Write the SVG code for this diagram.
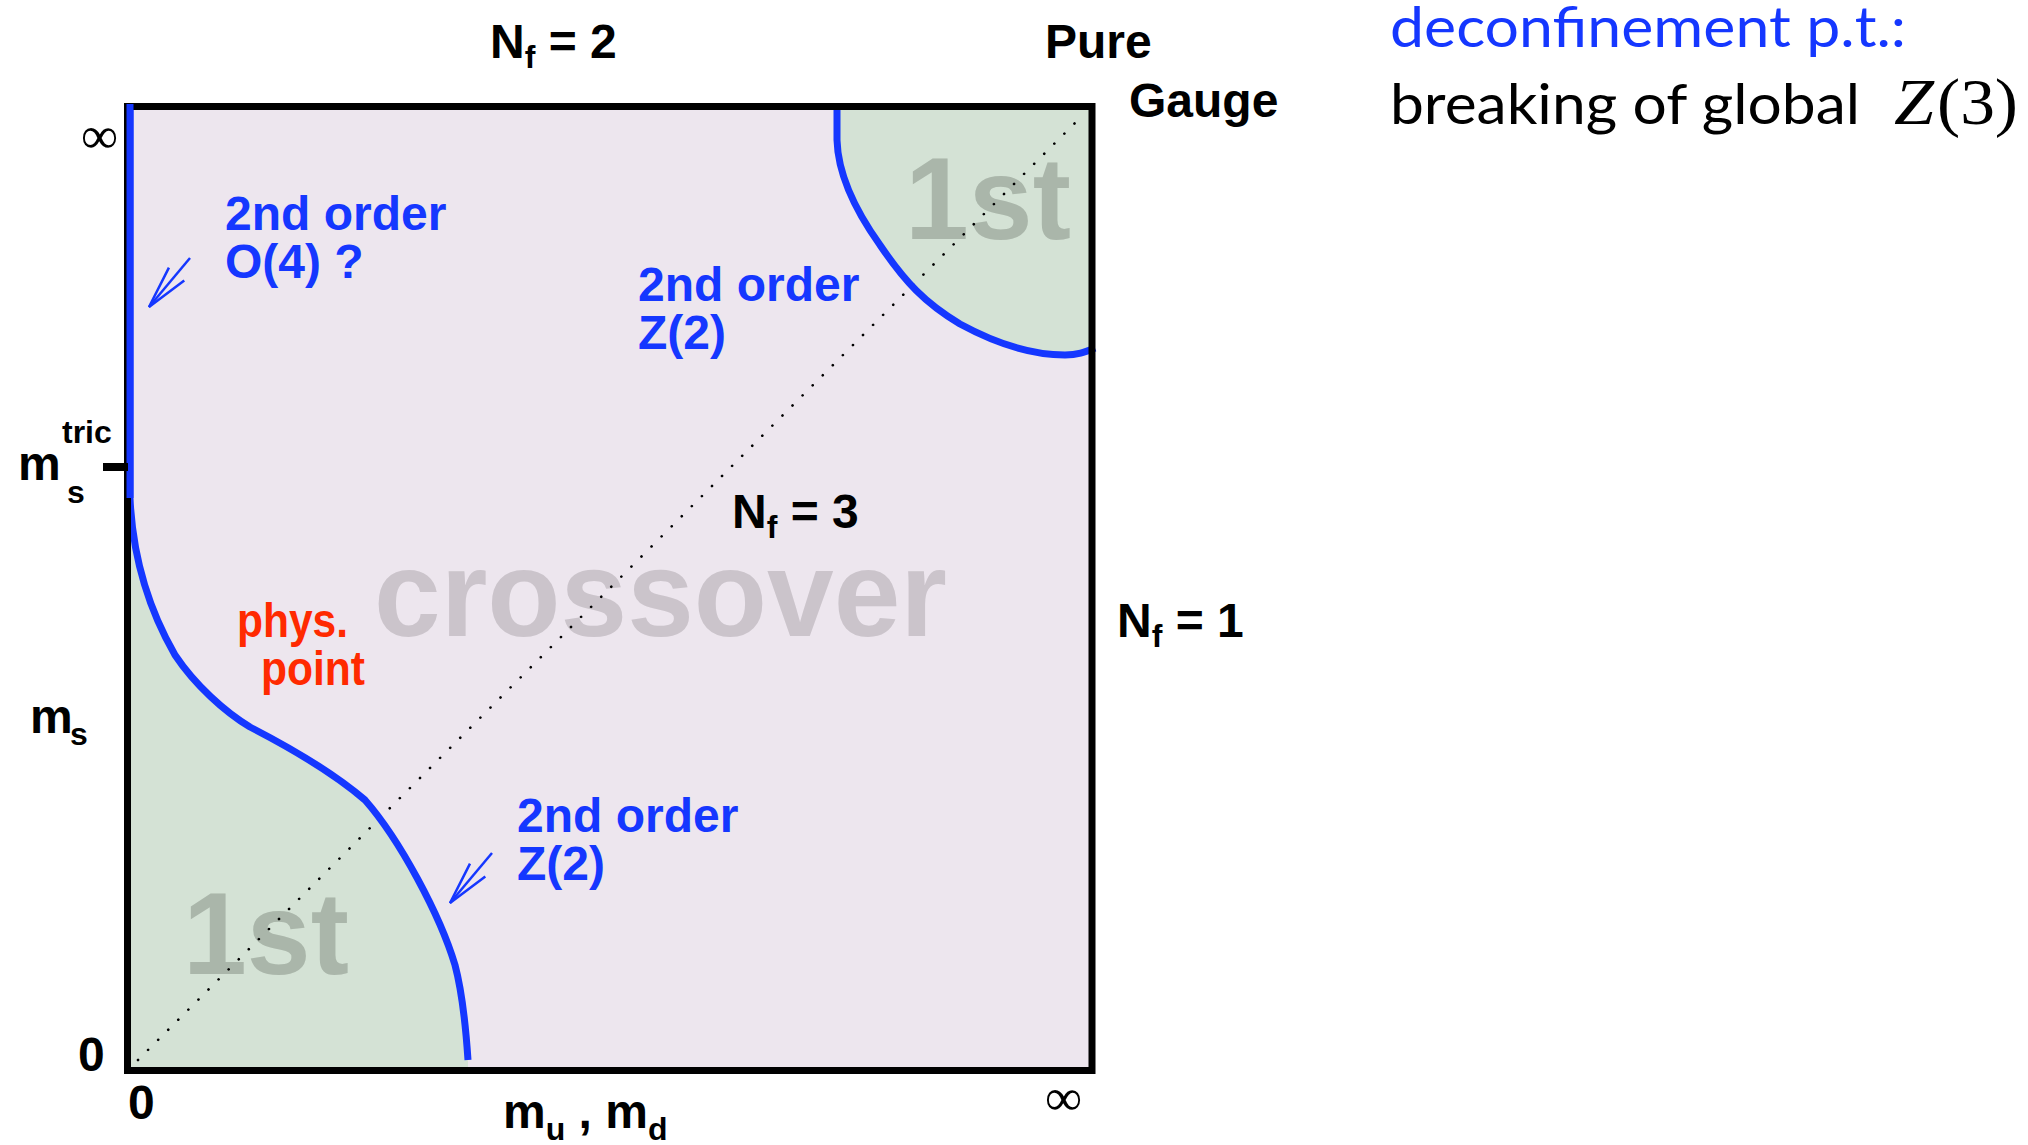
<svg xmlns="http://www.w3.org/2000/svg" width="2028" height="1145" viewBox="0 0 2028 1145">
  <style>
    .lbl { font-family: "Liberation Sans", Arial, sans-serif; font-weight: bold; font-size: 48px; fill: #000; }
    .blue { fill: #1537ff; }
    .red { fill: #ff2a00; }
    .sub { font-size: 32px; }
    .big { font-family: "Liberation Sans", Arial, sans-serif; font-weight: bold; }
    .inf { font-family: "Liberation Serif", "DejaVu Serif", serif; font-size: 52px; fill: #000; }
    .curve { fill: none; stroke: #1537ff; stroke-width: 7; }
    .arrow { fill: none; stroke: #1537ff; stroke-width: 2.5; }
    .gill { font-family: Lato, "Open Sans", sans-serif; font-size: 56px; }
  </style>
  <defs>
    <marker id="vhead" markerUnits="userSpaceOnUse" markerWidth="60" markerHeight="30" refX="0" refY="0" viewBox="-50 -15 55 30" orient="auto" overflow="visible">
      <path d="M-43,-10 L0,0 L-43,10" fill="none" stroke="#1537ff" stroke-width="2.5"/>
    </marker>
  </defs>
  <rect width="2028" height="1145" fill="#fff"/>

  <g id="plot-area">
    <rect x="127.5" y="106.5" width="964.5" height="964" fill="#ede6ee"/>
    <path id="first-order-top" d="M837,106.5 L837,140 C838,175 855,210 880,245 C905,282 925,303 960,324 C995,343 1030,355 1065,355 C1078,355 1085,352 1092,349 L1092,106.5 Z" fill="#d4e2d5"/>
    <path id="first-order-bottom" d="M130,498 C133,565 152,615 175,655 C195,685 225,712 250,727 C285,745 330,770 365,800 C400,840 440,915 455,965 C463,995 466,1030 468,1060 L468,1070.5 L127.5,1070.5 L127.5,498 Z" fill="#d4e2d5"/>
    <text class="big" x="374" y="636" font-size="122" fill="#cbc4cb" textLength="573" lengthAdjust="spacingAndGlyphs">crossover</text>
    <text class="big" x="905" y="239" font-size="117" fill="#aab6aa" textLength="166" lengthAdjust="spacingAndGlyphs">1st</text>
    <text class="big" x="183" y="974" font-size="117" fill="#aab6aa" textLength="166" lengthAdjust="spacingAndGlyphs">1st</text>
  </g>

  <g id="connectors">
    <line x1="138" y1="1060" x2="1084" y2="114" stroke="#000" stroke-width="2.6" stroke-linecap="round" stroke-dasharray="0.1 14.14"/>
    <path class="curve" d="M837,104 L837,140 C838,175 855,210 880,245 C905,282 925,303 960,324 C995,343 1030,355 1065,355 C1078,355 1085,352 1095,348"/>
    <path class="curve" d="M130,104 L130,498 C133,565 152,615 175,655 C195,685 225,712 250,727 C285,745 330,770 365,800 C400,840 440,915 455,965 C463,995 466,1030 468,1060"/>
    <line class="arrow" x1="190" y1="258" x2="149" y2="307" marker-end="url(#vhead)"/>
    <line class="arrow" x1="492" y1="853" x2="450" y2="903" marker-end="url(#vhead)"/>
  </g>

  <g id="frame">
    <rect x="127.5" y="106.5" width="964.5" height="964" fill="none" stroke="#000" stroke-width="7"/>
    <line x1="130" y1="104" x2="130" y2="498" stroke="#1537ff" stroke-width="7"/>
    <line x1="103" y1="467" x2="128" y2="467" stroke="#000" stroke-width="8"/>
  </g>

  <g id="axis-labels">
    <text class="lbl" x="490" y="58">N<tspan class="sub" dy="10">f</tspan><tspan dy="-10"> = 2</tspan></text>
    <text class="lbl" x="1045" y="58">Pure</text>
    <text class="lbl" x="1129" y="117">Gauge</text>
    <text class="inf" x="81" y="153">∞</text>
    <text class="lbl" x="18" y="480">m</text>
    <text class="lbl sub" x="67" y="503">s</text>
    <text class="lbl sub" x="62" y="443">tric</text>
    <text class="lbl" x="30" y="733">m</text>
    <text class="lbl sub" x="70" y="745">s</text>
    <text class="lbl" x="78" y="1071">0</text>
    <text class="lbl" x="128" y="1119">0</text>
    <text class="inf" x="1045" y="1115">∞</text>
    <text class="lbl" x="503" y="1128">m<tspan class="sub" dy="12">u</tspan><tspan dy="-12"> , m</tspan><tspan class="sub" dy="12">d</tspan></text>
    <text class="lbl" x="1117" y="637">N<tspan class="sub" dy="10">f</tspan><tspan dy="-10"> = 1</tspan></text>
    <text class="lbl" x="732" y="528">N<tspan class="sub" dy="10">f</tspan><tspan dy="-10"> = 3</tspan></text>
  </g>

  <g id="region-labels">
    <text class="lbl blue" x="225" y="230">2nd order</text>
    <text class="lbl blue" x="225" y="278">O(4) ?</text>
    <text class="lbl blue" x="638" y="301">2nd order</text>
    <text class="lbl blue" x="638" y="349">Z(2)</text>
    <text class="lbl blue" x="517" y="832">2nd order</text>
    <text class="lbl blue" x="517" y="880">Z(2)</text>
    <text class="lbl red" x="237" y="637" textLength="111" lengthAdjust="spacingAndGlyphs">phys.</text>
    <text class="lbl red" x="261" y="685" textLength="104" lengthAdjust="spacingAndGlyphs">point</text>
  </g>

  <g id="caption">
    <text class="gill" x="1390" y="47" fill="#1537ff" textLength="516" lengthAdjust="spacingAndGlyphs">deconfinement p.t.:</text>
    <text class="gill" x="1390" y="124" fill="#000" textLength="470" lengthAdjust="spacingAndGlyphs">breaking of global</text>
    <text x="1894" y="124" font-family="Liberation Serif, serif" font-style="italic" font-size="66" fill="#000" textLength="40" lengthAdjust="spacingAndGlyphs">Z</text>
    <text x="1937" y="124" font-family="Liberation Serif, serif" font-size="66" fill="#000" textLength="81" lengthAdjust="spacingAndGlyphs">(3)</text>
  </g>
</svg>
